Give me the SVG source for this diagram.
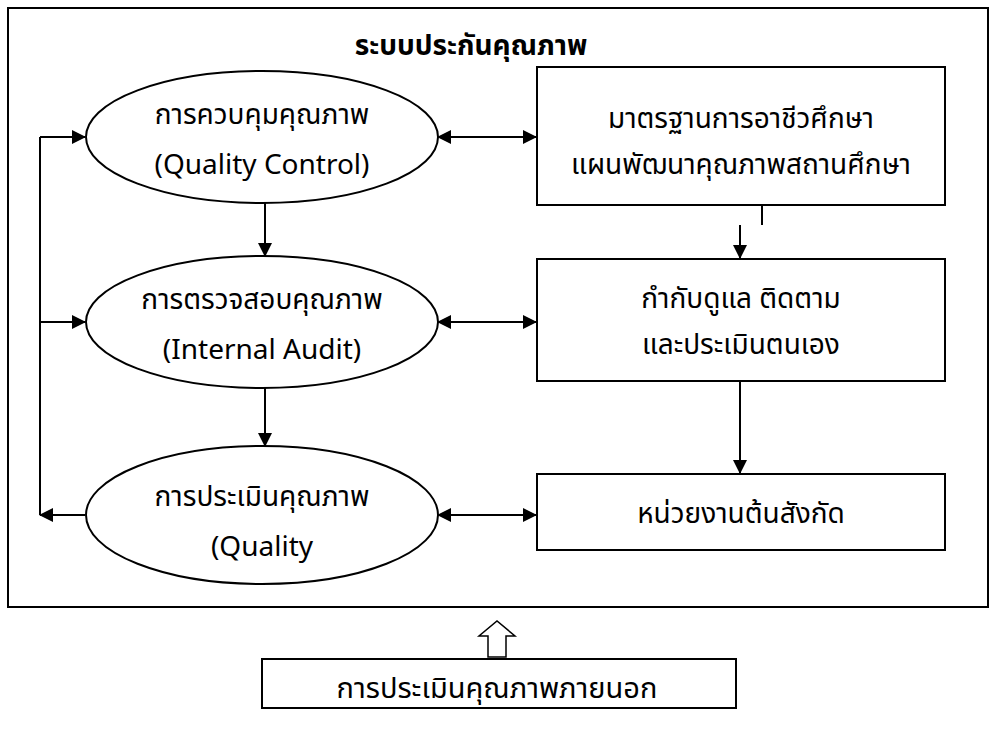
<svg xmlns="http://www.w3.org/2000/svg" width="991" height="733" viewBox="0 0 991 733">
<style>
.t{font-family:"Noto Sans Thai","Noto Sans","Open Sans",sans-serif;font-size:28px;fill:#000;text-anchor:middle}
.b{font-weight:bold;font-size:28px}
.s{fill:#fff;stroke:#000;stroke-width:2}
.l{fill:none;stroke:#000;stroke-width:2}
</style>
<defs>
<marker id="ah2" markerWidth="14" markerHeight="14" refX="13" refY="7" orient="auto-start-reverse" markerUnits="userSpaceOnUse" viewBox="0 0 14 14">
<path d="M0,0 L14,7 L0,14 z" fill="#000"/>
</marker>
</defs>
<rect x="0" y="0" width="991" height="733" fill="#fff"/>
<g id="frame">
<rect x="8" y="8" width="980" height="599" fill="none" stroke="#000" stroke-width="2"/>
<text class="t b" x="471" y="55">ระบบประกันคุณภาพ</text>
</g>
<g id="qc">
<ellipse class="s" cx="262" cy="137" rx="176" ry="66"/>
<text class="t" x="262" y="124">การควบคุมคุณภาพ</text>
<text class="t" x="262" y="174">(Quality Control)</text>
</g>
<g id="ia">
<ellipse class="s" cx="262" cy="322" rx="176" ry="66"/>
<text class="t" x="262" y="309">การตรวจสอบคุณภาพ</text>
<text class="t" x="262" y="359">(Internal Audit)</text>
</g>
<g id="qa">
<ellipse class="s" cx="262" cy="515" rx="176" ry="69"/>
<text class="t" x="262" y="506">การประเมินคุณภาพ</text>
<text class="t" x="262" y="556">(Quality</text>
</g>
<g id="std">
<rect class="s" x="537" y="67" width="408" height="138"/>
<text class="t" x="741" y="128">มาตรฐานการอาชีวศึกษา</text>
<text class="t" x="741" y="174">แผนพัฒนาคุณภาพสถานศึกษา</text>
</g>
<g id="monitor">
<rect class="s" x="537" y="259" width="408" height="122"/>
<text class="t" x="741" y="308">กำกับดูแล ติดตาม</text>
<text class="t" x="741" y="354">และประเมินตนเอง</text>
</g>
<g id="agency">
<rect class="s" x="537" y="474" width="408" height="76"/>
<text class="t" x="741" y="523">หน่วยงานต้นสังกัด</text>
</g>
<g id="external">
<rect class="s" x="262" y="659" width="474" height="49"/>
<text class="t" x="497" y="698" style="font-size:29px">การประเมินคุณภาพภายนอก</text>
</g>
<g id="connectors">
<line class="l" x1="265" y1="203" x2="265" y2="256" marker-end="url(#ah2)"/>
<line class="l" x1="265" y1="388" x2="265" y2="446" marker-end="url(#ah2)"/>
<line class="l" x1="438" y1="137" x2="536" y2="137" marker-start="url(#ah2)" marker-end="url(#ah2)"/>
<line class="l" x1="438" y1="322" x2="536" y2="322" marker-start="url(#ah2)" marker-end="url(#ah2)"/>
<line class="l" x1="438" y1="515" x2="536" y2="515" marker-start="url(#ah2)" marker-end="url(#ah2)"/>
<line class="l" x1="762" y1="205" x2="762" y2="225"/>
<line class="l" x1="740" y1="225" x2="740" y2="258" marker-end="url(#ah2)"/>
<line class="l" x1="740" y1="381" x2="740" y2="473" marker-end="url(#ah2)"/>
<polyline class="l" points="40,137 40,515"/>
<line class="l" x1="40" y1="137" x2="85" y2="137" marker-end="url(#ah2)"/>
<line class="l" x1="40" y1="322" x2="85" y2="322" marker-end="url(#ah2)"/>
<line class="l" x1="85" y1="515" x2="40" y2="515" marker-end="url(#ah2)"/>
<path d="M488,657 L488,636 L479,636 L497,621 L515,636 L506,636 L506,657 Z" fill="#fff" stroke="#000" stroke-width="1.5"/>
</g>
</svg>
